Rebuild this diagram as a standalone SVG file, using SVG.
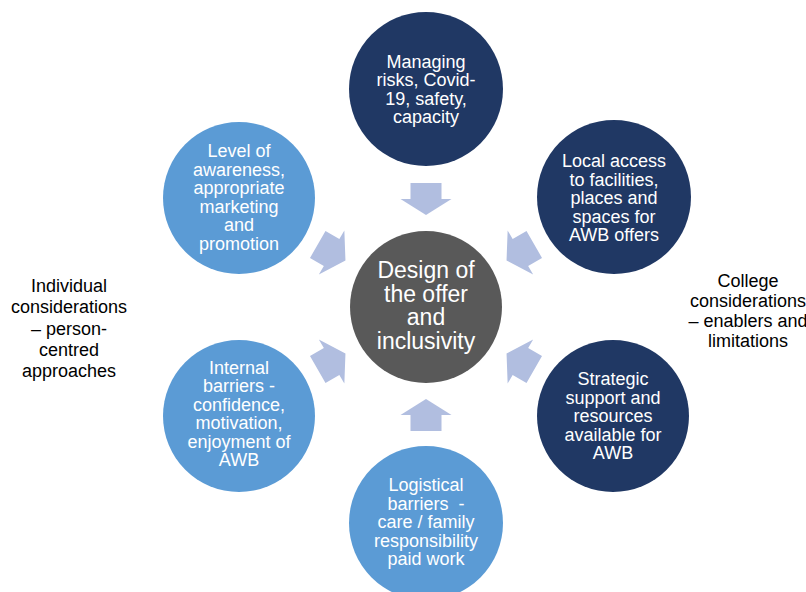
<svg xmlns="http://www.w3.org/2000/svg" width="806" height="592" viewBox="0 0 806 592">
<defs>
<style>
.dark{fill:#203864}
.light{fill:#5B9BD5}
.mid{fill:#595959}
.arr{fill:#B1BEE0}
.t{font-family:"Liberation Sans",Arial,sans-serif;font-size:18px;fill:#ffffff;text-anchor:middle}
.c{font-family:"Liberation Sans",Arial,sans-serif;font-size:23px;fill:#ffffff;text-anchor:middle}
.s{font-family:"Liberation Sans",Arial,sans-serif;font-size:18px;fill:#000000;text-anchor:middle}
</style>
<path id="arrow" d="M-15.5,-16 H15.5 V0 H25.5 L0,16 L-25.5,0 H-15.5 Z"/>
</defs>
<rect width="806" height="592" fill="#ffffff"/>
<g id="connectors">
<use href="#arrow" class="arr" transform="translate(426,199)"/>
<use href="#arrow" class="arr" transform="translate(520.4,252.5) rotate(60)"/>
<use href="#arrow" class="arr" transform="translate(520.4,361.5) rotate(120)"/>
<use href="#arrow" class="arr" transform="translate(426,415) rotate(180)"/>
<use href="#arrow" class="arr" transform="translate(331.6,361.5) rotate(240)"/>
<use href="#arrow" class="arr" transform="translate(331.6,252.5) rotate(300)"/>
</g>
<g id="center">
<circle cx="426" cy="307" r="76" class="mid"/>
<text class="c"><tspan x="426" y="278">Design of</tspan><tspan x="426" y="301.5">the offer</tspan><tspan x="426" y="325">and</tspan><tspan x="426" y="348.5">inclusivity</tspan></text>
</g>
<g id="top">
<circle cx="426" cy="89" r="77" class="dark"/>
<text class="t"><tspan x="426" y="67.5">Managing</tspan><tspan x="426" y="86">risks, Covid-</tspan><tspan x="426" y="104.5">19, safety,</tspan><tspan x="426" y="123">capacity</tspan></text>
</g>
<g id="top-right">
<circle cx="614" cy="197" r="77" class="dark"/>
<text class="t"><tspan x="614" y="167">Local access</tspan><tspan x="614" y="185.5">to facilities,</tspan><tspan x="614" y="204">places and</tspan><tspan x="614" y="222.5">spaces for</tspan><tspan x="614" y="241">AWB offers</tspan></text>
</g>
<g id="bottom-right">
<circle cx="613" cy="416" r="76" class="dark"/>
<text class="t"><tspan x="613" y="385">Strategic</tspan><tspan x="613" y="403.5">support and</tspan><tspan x="613" y="422">resources</tspan><tspan x="613" y="440.5">available for</tspan><tspan x="613" y="459">AWB</tspan></text>
</g>
<g id="bottom">
<circle cx="426" cy="523" r="77" class="light"/>
<text class="t" xml:space="preserve"><tspan x="426" y="491">Logistical</tspan><tspan x="426" y="509.5">barriers  -</tspan><tspan x="426" y="528">care / family</tspan><tspan x="426" y="546.5">responsibility</tspan><tspan x="426" y="565">paid work</tspan></text>
</g>
<g id="bottom-left">
<circle cx="239" cy="416" r="76" class="light"/>
<text class="t"><tspan x="239" y="373.5">Internal</tspan><tspan x="239" y="392">barriers -</tspan><tspan x="239" y="410.5">confidence,</tspan><tspan x="239" y="429">motivation,</tspan><tspan x="239" y="447.5">enjoyment of</tspan><tspan x="239" y="466">AWB</tspan></text>
</g>
<g id="top-left">
<circle cx="239" cy="198" r="76" class="light"/>
<text class="t"><tspan x="239" y="157">Level of</tspan><tspan x="239" y="175.5">awareness,</tspan><tspan x="239" y="194">appropriate</tspan><tspan x="239" y="212.5">marketing</tspan><tspan x="239" y="231">and</tspan><tspan x="239" y="249.5">promotion</tspan></text>
</g>
<g id="label-left">
<text class="s"><tspan x="69" y="291.5">Individual</tspan><tspan x="69" y="313">considerations</tspan><tspan x="69" y="334.5">– person-</tspan><tspan x="69" y="356">centred</tspan><tspan x="69" y="377">approaches</tspan></text>
</g>
<g id="label-right">
<text class="s"><tspan x="748" y="287">College</tspan><tspan x="748" y="307">considerations</tspan><tspan x="748" y="327">– enablers and</tspan><tspan x="748" y="347">limitations</tspan></text>
</g>
</svg>
